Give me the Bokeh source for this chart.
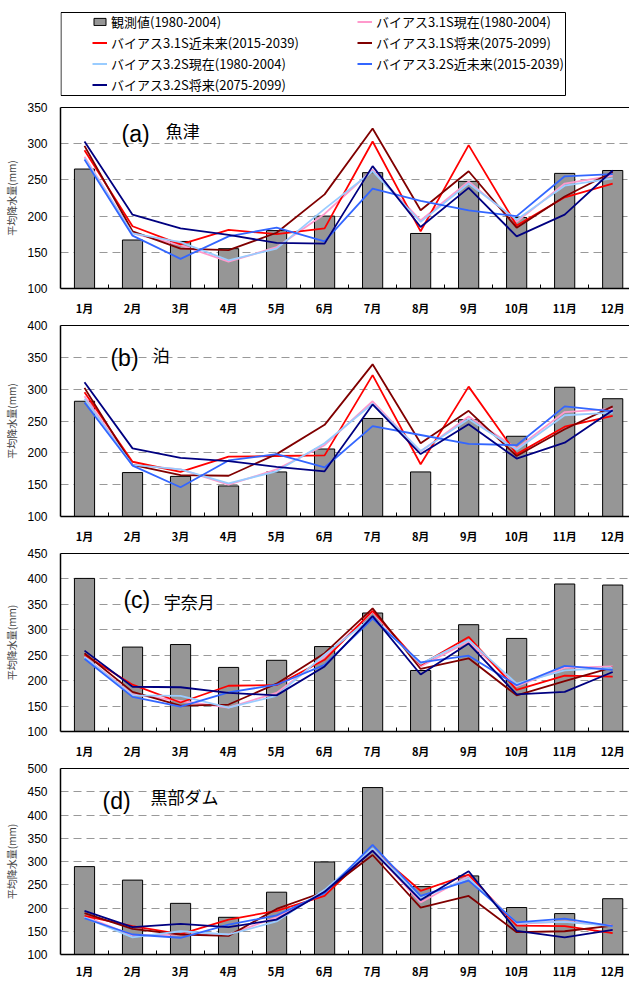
from bokeh.plotting import figure
from bokeh.layouts import column
from bokeh.models import Range1d, FixedTicker, LinearAxis, Label, Legend, LegendItem
from bokeh.embed import file_html
from bokeh.resources import INLINE

# ---------------- data ----------------
months = ["1月", "2月", "3月", "4月", "5月", "6月", "7月", "8月", "9月", "10月", "11月", "12月"]
month_pos = [1, 2, 3, 4, 5, 6, 7, 8, 9, 10, 11, 12]

obs_name = "観測値(1980-2004)"
series_names = [
    "バイアス3.1S現在(1980-2004)",
    "バイアス3.1S近未来(2015-2039)",
    "バイアス3.1S将来(2075-2099)",
    "バイアス3.2S現在(1980-2004)",
    "バイアス3.2S近未来(2015-2039)",
    "バイアス3.2S将来(2075-2099)",
]
series_colors = ["#FF99CC", "#FF0000", "#800000", "#99CCFF", "#3366FF", "#000080"]

# (a) 魚津
obs_a = [265, 167, 165, 155, 180, 200, 260, 176, 248, 198, 259, 263]
s31_now_a = [282, 176, 160, 137, 157, 203, 264, 194, 248, 192, 245, 256]
s31_near_a = [291, 186, 161, 181, 175, 183, 303, 179, 298, 187, 226, 245]
s31_far_a = [297, 179, 155, 153, 177, 230, 321, 208, 262, 184, 227, 261]
s32_now_a = [280, 176, 164, 139, 155, 210, 262, 192, 245, 195, 242, 252]
s32_near_a = [278, 173, 141, 172, 184, 165, 238, 221, 208, 200, 255, 258]
s32_far_a = [303, 202, 183, 174, 163, 162, 269, 185, 239, 172, 202, 263]

# (b) 泊
obs_b = [281, 169, 163, 148, 170, 206, 254, 170, 252, 226, 303, 285]
s31_now_b = [289, 181, 174, 150, 174, 212, 281, 202, 257, 207, 264, 269]
s31_near_b = [295, 186, 170, 194, 195, 196, 322, 182, 304, 198, 241, 258]
s31_far_b = [302, 181, 165, 164, 198, 244, 339, 215, 266, 195, 237, 273]
s32_now_b = [285, 181, 174, 152, 171, 215, 277, 203, 253, 205, 259, 263]
s32_near_b = [279, 180, 146, 188, 198, 177, 242, 228, 214, 212, 273, 265]
s32_far_b = [311, 207, 192, 187, 178, 171, 276, 198, 245, 191, 216, 267]

# (c) 宇奈月
obs_c = [401, 266, 271, 226, 240, 267, 333, 220, 310, 283, 390, 388]
s31_now_c = [247, 173, 160, 147, 176, 247, 335, 228, 277, 189, 225, 228]
s31_near_c = [251, 192, 157, 190, 191, 241, 337, 231, 286, 182, 210, 208]
s31_far_c = [254, 178, 151, 153, 194, 254, 342, 223, 244, 171, 199, 226]
s32_now_c = [246, 171, 170, 147, 170, 251, 325, 233, 280, 194, 220, 225]
s32_near_c = [243, 168, 149, 177, 192, 231, 322, 236, 249, 191, 229, 221]
s32_far_c = [259, 188, 187, 176, 171, 228, 327, 212, 273, 173, 178, 217]

# (d) 黒部ダム
obs_d = [289, 260, 210, 180, 234, 299, 459, 246, 269, 201, 188, 220]
s31_now_d = [182, 141, 143, 143, 180, 233, 324, 212, 269, 166, 171, 162]
s31_near_d = [183, 161, 144, 175, 194, 226, 326, 237, 272, 162, 161, 146]
s31_far_d = [189, 155, 143, 140, 198, 235, 314, 201, 226, 148, 150, 162]
s32_now_d = [180, 137, 150, 143, 171, 239, 328, 221, 264, 168, 170, 161]
s32_near_d = [178, 143, 136, 164, 184, 232, 336, 226, 259, 169, 177, 161]
s32_far_d = [194, 159, 166, 159, 175, 235, 323, 217, 279, 151, 137, 153]

y_ticks_a = [100, 150, 200, 250, 300, 350]
y_ticks_b = [100, 150, 200, 250, 300, 350, 400]
y_ticks_c = [100, 150, 200, 250, 300, 350, 400, 450]
y_ticks_d = [100, 150, 200, 250, 300, 350, 400, 450, 500]

y_label = "平均降水量(mm)"

# ---------------- style ----------------
W = 629
LEFT = 60
CJK = "Noto Sans CJK JP"
LAT = "Liberation Sans"
BAR_COLOR = "#969696"


def make_panel(obs, series, yticks, tag, name, tag_pos, name_pos,
               border_top, frame_h, border_bottom, xl_standoff):
    p = figure(width=W, height=border_top + frame_h + border_bottom,
               output_backend="svg", toolbar_location=None,
               x_range=Range1d(0.5, 12.35), y_range=Range1d(yticks[0], yticks[-1]),
               min_border_left=LEFT, min_border_right=0,
               min_border_top=border_top, min_border_bottom=border_bottom,
               outline_line_color=None, background_fill_color="white",
               border_fill_color="white")
    p.xgrid.visible = False
    p.ygrid.ticker = FixedTicker(ticks=yticks[1:-1])
    p.ygrid.grid_line_color = "#999999"
    p.ygrid.grid_line_dash = "8 5"
    p.ygrid.grid_line_width = 1

    p.vbar(x=month_pos, top=obs, bottom=yticks[0], width=0.42,
           fill_color=BAR_COLOR, line_color="black", line_width=1)
    for vals, col in zip(series, series_colors):
        p.line(x=month_pos, y=vals, line_color=col, line_width=1.8)

    xa = p.xaxis[0]
    xa.ticker = FixedTicker(ticks=month_pos, minor_ticks=[m + 0.5 for m in month_pos[:-1]])
    xa.major_label_overrides = {m: t for m, t in zip(month_pos, months)}
    xa.major_tick_line_color = None
    xa.major_tick_in = 0
    xa.major_tick_out = 0
    xa.minor_tick_in = 4
    xa.minor_tick_out = 0
    xa.minor_tick_line_color = "black"
    xa.axis_line_color = "black"
    xa.axis_line_width = 1.5
    xa.major_label_standoff = xl_standoff
    xa.major_label_text_font = CJK
    xa.major_label_text_font_size = "11px"
    xa.major_label_text_font_style = "bold"
    xa.major_label_text_color = "black"

    ya = p.yaxis[0]
    ya.ticker = FixedTicker(ticks=yticks)
    ya.major_tick_line_color = None
    ya.minor_tick_line_color = None
    ya.major_tick_in = 0
    ya.major_tick_out = 0
    ya.minor_tick_in = 0
    ya.minor_tick_out = 0
    ya.axis_line_color = "black"
    ya.axis_line_width = 1.5
    ya.major_label_standoff = 13
    ya.major_label_text_font = LAT
    ya.major_label_text_font_size = "12px"
    ya.major_label_text_color = "black"
    ya.axis_label = y_label
    ya.axis_label_text_font = CJK
    ya.axis_label_text_font_size = "10px"
    ya.axis_label_text_font_style = "normal"
    ya.axis_label_standoff = 5

    top = LinearAxis(ticker=FixedTicker(ticks=[]), major_label_text_font_size="0px",
                     major_tick_line_color=None, minor_tick_line_color=None,
                     major_tick_in=0, major_tick_out=0, minor_tick_in=0, minor_tick_out=0,
                     major_label_standoff=0, axis_line_color="black", axis_line_width=1)
    p.add_layout(top, "above")

    p.add_layout(Label(x=tag_pos[0], y=tag_pos[1], text=tag, text_font=LAT,
                       text_font_size="23px", text_baseline="middle", text_color="black"))
    p.add_layout(Label(x=name_pos[0], y=name_pos[1], text=name, text_font=CJK,
                       text_font_size="17px", text_baseline="middle", text_color="black"))
    return p


pa = make_panel(obs_a, [s31_now_a, s31_near_a, s31_far_a, s32_now_a, s32_near_a, s32_far_a],
                y_ticks_a, "(a)", "魚津", (1.77, 313), (2.69, 318), 11, 183, 28, 11)
pb = make_panel(obs_b, [s31_now_b, s31_near_b, s31_far_b, s32_now_b, s32_near_b, s32_far_b],
                y_ticks_b, "(b)", "泊", (1.54, 349), (2.42, 354), 7, 194, 27, 11)
pc = make_panel(obs_c, [s31_now_c, s31_near_c, s31_far_c, s32_now_c, s32_near_c, s32_far_c],
                y_ticks_c, "(c)", "宇奈月", (1.81, 358), (2.65, 355), 7, 179, 29, 11)
pd = make_panel(obs_d, [s31_now_d, s31_near_d, s31_far_d, s32_now_d, s32_near_d, s32_far_d],
                y_ticks_d, "(d)", "黒部ダム", (1.375, 430), (2.375, 440), 7, 189, 24, 8)

# ---------------- legend box ----------------
LEG_H = 96
lf = figure(width=W, height=LEG_H, output_backend="svg", toolbar_location=None,
            x_range=Range1d(0, W - LEFT), y_range=Range1d(1000, 1000 + LEG_H),
            min_border_left=LEFT, min_border_right=0,
            min_border_top=0, min_border_bottom=0,
            x_axis_location=None, y_axis_location=None,
            outline_line_color=None, border_fill_color="white")
lf.grid.visible = False
# legend frame box (pixel units of this strip)
lf.quad(left=[0.5], right=[505], bottom=[1001], top=[1084],
        fill_color=None, line_color="black", line_width=1)

# sample renderers for the legend keys (they lie outside this strip's visible range)
r_obs = lf.vbar(x=month_pos, top=obs_a, bottom=y_ticks_a[0], width=0.5,
                fill_color=BAR_COLOR, line_color="black")
items = [LegendItem(label=obs_name, renderers=[r_obs])]
for nm, col, vals in zip(series_names, series_colors,
                         [s31_now_a, s31_near_a, s31_far_a, s32_now_a, s32_near_a, s32_far_a]):
    r = lf.line(x=month_pos, y=vals, line_color=col, line_width=2)
    items.append(LegendItem(label=nm, renderers=[r]))

leg = Legend(items=items, location=(32, 2), orientation="horizontal", ncols=2,
             glyph_width=15, glyph_height=9, label_standoff=4, label_width=245,
             label_height=20, spacing=1, padding=0, margin=0,
             border_line_color=None, background_fill_alpha=0,
             label_text_font=CJK, label_text_font_size="13px", label_text_color="black")
lf.add_layout(leg)

layout = column(lf, pa, pb, pc, pd)
open("out.html", "w").write(file_html(layout, INLINE))
